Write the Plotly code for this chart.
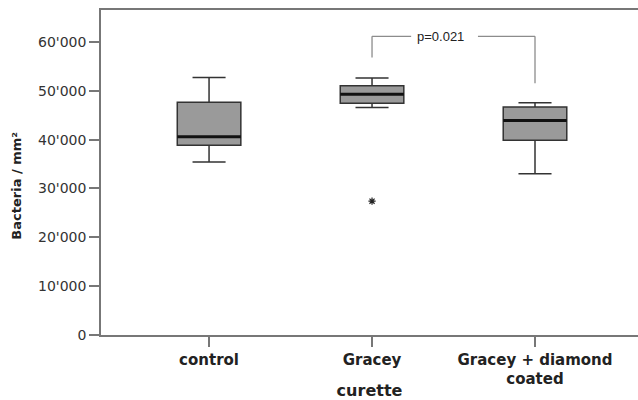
import plotly.graph_objects as go

categories = ["control", "Gracey", "Gracey + diamond<br>coated"]
lower_whisker = [35400, 46600, 33000]
q1 = [38850, 47450, 39900]
median = [40600, 49300, 43900]
q3 = [47650, 51050, 46700]
upper_whisker = [52750, 52650, 47550]
outlier_cat = [1]
outlier_val = [27400]

y_tickvals = [0, 10000, 20000, 30000, 40000, 50000, 60000]
y_ticktext = ["0", "10'000", "20'000", "30'000", "40'000", "50'000", "60'000"]

bracket_from, bracket_to = 1, 2
bracket_top = 61150
bracket_left_bottom = 56800
bracket_right_bottom = 51550
p_text = "p=0.021"

box_w = 0.39
xs = list(range(len(categories)))
FONT = "DejaVu Sans"

fig = go.Figure()
for i in xs:
    fig.add_trace(go.Box(
        x=[i], q1=[q1[i]], median=[median[i]], q3=[q3[i]],
        lowerfence=[lower_whisker[i]], upperfence=[upper_whisker[i]],
        width=box_w, whiskerwidth=0.52,
        fillcolor="#9a9a9a", line=dict(color="#333333", width=1.5),
        boxpoints=False, showlegend=False, hoverinfo="skip"))
    fig.add_trace(go.Scatter(
        x=[i - box_w / 2, i + box_w / 2], y=[median[i], median[i]],
        mode="lines", line=dict(color="#111111", width=3),
        showlegend=False, hoverinfo="skip"))

fig.add_trace(go.Scatter(
    x=outlier_cat, y=outlier_val, mode="markers",
    marker=dict(symbol="asterisk-open", size=6, color="#222222",
                line=dict(color="#222222", width=1.2)),
    showlegend=False, hoverinfo="skip"))

gl = dict(color="#8c8c8c", width=1.3)
fig.add_shape(type="line", x0=bracket_from, x1=bracket_from, y0=bracket_left_bottom, y1=bracket_top, line=gl)
fig.add_shape(type="line", x0=bracket_to, x1=bracket_to, y0=bracket_right_bottom, y1=bracket_top, line=gl)
fig.add_shape(type="line", x0=bracket_from, x1=bracket_from + 0.24, y0=bracket_top, y1=bracket_top, line=gl)
fig.add_shape(type="line", x0=bracket_to - 0.35, x1=bracket_to, y0=bracket_top, y1=bracket_top, line=gl)
fig.add_annotation(x=(bracket_from + bracket_to) / 2 - 0.08, y=bracket_top, text=p_text,
                   showarrow=False, font=dict(family="Liberation Sans", size=13, color="#222222"),
                   yanchor="middle")

fig.add_annotation(xref="paper", yref="paper", x=-0.158, y=0.46, text="<b>Bacteria / mm²</b>",
                   textangle=-90, showarrow=False, xanchor="center", yanchor="middle",
                   font=dict(family=FONT, size=13, color="#222222"))

fig.update_layout(
    width=638, height=400,
    margin=dict(l=101, r=0, t=10, b=65),
    plot_bgcolor="white", paper_bgcolor="white",
    font=dict(family=FONT, color="#333333"),
    xaxis=dict(range=[-0.663, 2.632], tickvals=xs, ticktext=["<b>%s</b>" % c for c in categories],
               tickfont=dict(size=15, color="#222222"), automargin=False,
               showgrid=False, zeroline=False, showline=True, linecolor="#777777", linewidth=1.5,
               mirror=True, ticks="outside", ticklen=10, tickcolor="#777777", tickwidth=1.5,
               title=dict(text="<b>curette</b>", font=dict(size=16, color="#222222"), standoff=2)),
    yaxis=dict(range=[0, 66550], tickvals=y_tickvals, ticktext=y_ticktext,
               tickfont=dict(size=14, color="#333333"), automargin=False,
               showgrid=False, zeroline=False, showline=True, linecolor="#777777", linewidth=1.5,
               ticks="outside", ticklen=10, tickcolor="#777777", tickwidth=1.5),
)

fig.write_html("out.html")
